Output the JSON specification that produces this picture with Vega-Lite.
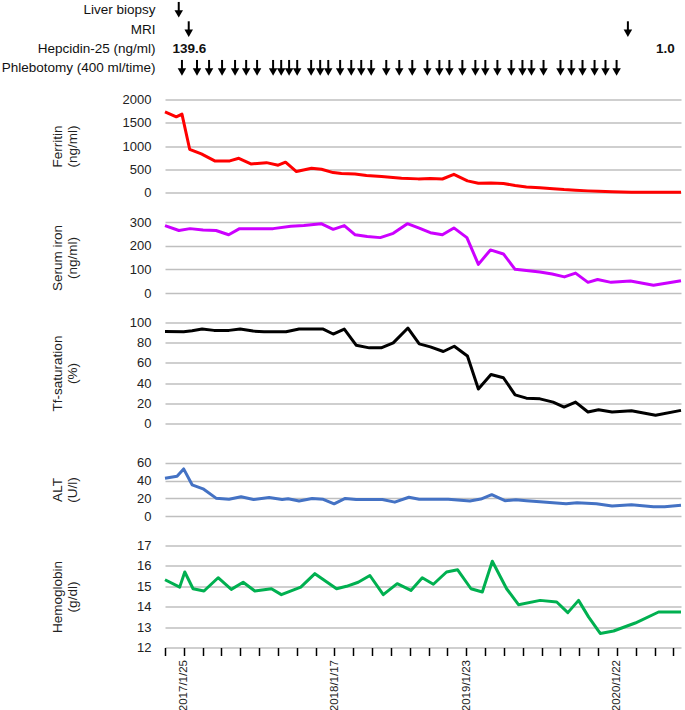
{
  "$schema": "https://vega.github.io/schema/vega-lite/v6.json",
  "padding": {"left": 1, "top": 0, "right": 2, "bottom": 0},
  "spacing": 29.5,
  "bounds": "flush",
  "config": {
    "view": {"stroke": null},
    "font": "Liberation Sans",
    "axis": {"labelFont": "Liberation Sans", "titleFont": "Liberation Sans", "labelColor": "#222", "titleColor": "#222", "titleFontWeight": "normal", "gridColor": "#BFBFBF", "gridWidth": 1.5, "domain": false, "ticks": false, "tickSize": 0, "labelFontSize": 13, "titleFontSize": 13.5}
  },
  "datasets": {
    "events": [
      {"row": "Liver biopsy", "t": 7.3, "kind": "arrow"},
      {"row": "MRI", "t": 12.6, "kind": "arrow"},
      {"row": "MRI", "t": 245.8, "kind": "arrow"},
      {"row": "Hepcidin-25 (ng/ml)", "t": 13.0, "kind": "text", "label": "139.6"},
      {"row": "Hepcidin-25 (ng/ml)", "t": 265.7, "kind": "text", "label": "1.0"},
      {"row": "Phlebotomy (400 ml/time)", "t": 9.0, "kind": "arrow"},
      {"row": "Phlebotomy (400 ml/time)", "t": 17.0, "kind": "arrow"},
      {"row": "Phlebotomy (400 ml/time)", "t": 23.4, "kind": "arrow"},
      {"row": "Phlebotomy (400 ml/time)", "t": 30.3, "kind": "arrow"},
      {"row": "Phlebotomy (400 ml/time)", "t": 37.2, "kind": "arrow"},
      {"row": "Phlebotomy (400 ml/time)", "t": 43.1, "kind": "arrow"},
      {"row": "Phlebotomy (400 ml/time)", "t": 48.9, "kind": "arrow"},
      {"row": "Phlebotomy (400 ml/time)", "t": 57.4, "kind": "arrow"},
      {"row": "Phlebotomy (400 ml/time)", "t": 61.7, "kind": "arrow"},
      {"row": "Phlebotomy (400 ml/time)", "t": 65.9, "kind": "arrow"},
      {"row": "Phlebotomy (400 ml/time)", "t": 70.2, "kind": "arrow"},
      {"row": "Phlebotomy (400 ml/time)", "t": 77.6, "kind": "arrow"},
      {"row": "Phlebotomy (400 ml/time)", "t": 82.4, "kind": "arrow"},
      {"row": "Phlebotomy (400 ml/time)", "t": 86.7, "kind": "arrow"},
      {"row": "Phlebotomy (400 ml/time)", "t": 93.0, "kind": "arrow"},
      {"row": "Phlebotomy (400 ml/time)", "t": 98.9, "kind": "arrow"},
      {"row": "Phlebotomy (400 ml/time)", "t": 104.2, "kind": "arrow"},
      {"row": "Phlebotomy (400 ml/time)", "t": 109.5, "kind": "arrow"},
      {"row": "Phlebotomy (400 ml/time)", "t": 117.5, "kind": "arrow"},
      {"row": "Phlebotomy (400 ml/time)", "t": 124.4, "kind": "arrow"},
      {"row": "Phlebotomy (400 ml/time)", "t": 131.3, "kind": "arrow"},
      {"row": "Phlebotomy (400 ml/time)", "t": 139.3, "kind": "arrow"},
      {"row": "Phlebotomy (400 ml/time)", "t": 145.7, "kind": "arrow"},
      {"row": "Phlebotomy (400 ml/time)", "t": 151.0, "kind": "arrow"},
      {"row": "Phlebotomy (400 ml/time)", "t": 157.9, "kind": "arrow"},
      {"row": "Phlebotomy (400 ml/time)", "t": 164.8, "kind": "arrow"},
      {"row": "Phlebotomy (400 ml/time)", "t": 170.1, "kind": "arrow"},
      {"row": "Phlebotomy (400 ml/time)", "t": 176.5, "kind": "arrow"},
      {"row": "Phlebotomy (400 ml/time)", "t": 183.9, "kind": "arrow"},
      {"row": "Phlebotomy (400 ml/time)", "t": 189.8, "kind": "arrow"},
      {"row": "Phlebotomy (400 ml/time)", "t": 194.6, "kind": "arrow"},
      {"row": "Phlebotomy (400 ml/time)", "t": 201.0, "kind": "arrow"},
      {"row": "Phlebotomy (400 ml/time)", "t": 210.0, "kind": "arrow"},
      {"row": "Phlebotomy (400 ml/time)", "t": 215.8, "kind": "arrow"},
      {"row": "Phlebotomy (400 ml/time)", "t": 221.7, "kind": "arrow"},
      {"row": "Phlebotomy (400 ml/time)", "t": 228.1, "kind": "arrow"},
      {"row": "Phlebotomy (400 ml/time)", "t": 233.9, "kind": "arrow"},
      {"row": "Phlebotomy (400 ml/time)", "t": 239.8, "kind": "arrow"}
    ],
    "labs": [
      {"s": "Ferritin", "t": 0, "v": 1735}, {"s": "Ferritin", "t": 6.0, "v": 1627}, {"s": "Ferritin", "t": 9.0, "v": 1685}, {"s": "Ferritin", "t": 13.1, "v": 929}, {"s": "Ferritin", "t": 19.3, "v": 829}, {"s": "Ferritin", "t": 26.4, "v": 679}, {"s": "Ferritin", "t": 34.4, "v": 679}, {"s": "Ferritin", "t": 39.2, "v": 736}, {"s": "Ferritin", "t": 45.6, "v": 614}, {"s": "Ferritin", "t": 53.9, "v": 642}, {"s": "Ferritin", "t": 60.1, "v": 587}, {"s": "Ferritin", "t": 64.0, "v": 651}, {"s": "Ferritin", "t": 69.8, "v": 450}, {"s": "Ferritin", "t": 77.8, "v": 522}, {"s": "Ferritin", "t": 83.1, "v": 501}, {"s": "Ferritin", "t": 89.3, "v": 428}, {"s": "Ferritin", "t": 93.7, "v": 407}, {"s": "Ferritin", "t": 100.9, "v": 400}, {"s": "Ferritin", "t": 107.0, "v": 364}, {"s": "Ferritin", "t": 115.0, "v": 343}, {"s": "Ferritin", "t": 125.6, "v": 308}, {"s": "Ferritin", "t": 134.5, "v": 293}, {"s": "Ferritin", "t": 140.9, "v": 300}, {"s": "Ferritin", "t": 147.3, "v": 290}, {"s": "Ferritin", "t": 153.4, "v": 390}, {"s": "Ferritin", "t": 160.6, "v": 250}, {"s": "Ferritin", "t": 166.4, "v": 200}, {"s": "Ferritin", "t": 173.1, "v": 205}, {"s": "Ferritin", "t": 179.7, "v": 195}, {"s": "Ferritin", "t": 185.9, "v": 150}, {"s": "Ferritin", "t": 191.9, "v": 120}, {"s": "Ferritin", "t": 199.1, "v": 100}, {"s": "Ferritin", "t": 206.1, "v": 80}, {"s": "Ferritin", "t": 211.9, "v": 62}, {"s": "Ferritin", "t": 218.0, "v": 50}, {"s": "Ferritin", "t": 224.6, "v": 35}, {"s": "Ferritin", "t": 230.2, "v": 25}, {"s": "Ferritin", "t": 237.4, "v": 15}, {"s": "Ferritin", "t": 247.7, "v": 8}, {"s": "Ferritin", "t": 260.5, "v": 5}, {"s": "Ferritin", "t": 274, "v": 5},
      {"s": "Iron", "t": 0, "v": 285}, {"s": "Iron", "t": 7.4, "v": 264}, {"s": "Iron", "t": 13.3, "v": 272}, {"s": "Iron", "t": 20.2, "v": 266}, {"s": "Iron", "t": 27.1, "v": 264}, {"s": "Iron", "t": 33.8, "v": 246}, {"s": "Iron", "t": 39.6, "v": 272}, {"s": "Iron", "t": 57.4, "v": 272}, {"s": "Iron", "t": 66.8, "v": 282}, {"s": "Iron", "t": 73.7, "v": 285}, {"s": "Iron", "t": 82.9, "v": 293}, {"s": "Iron", "t": 89.3, "v": 269}, {"s": "Iron", "t": 95.2, "v": 285}, {"s": "Iron", "t": 101.0, "v": 246}, {"s": "Iron", "t": 107.4, "v": 239}, {"s": "Iron", "t": 114.3, "v": 234}, {"s": "Iron", "t": 121.2, "v": 252}, {"s": "Iron", "t": 128.7, "v": 293}, {"s": "Iron", "t": 135.0, "v": 274}, {"s": "Iron", "t": 140.9, "v": 255}, {"s": "Iron", "t": 147.3, "v": 246}, {"s": "Iron", "t": 153.4, "v": 275}, {"s": "Iron", "t": 160.3, "v": 234}, {"s": "Iron", "t": 166.4, "v": 121}, {"s": "Iron", "t": 172.8, "v": 182}, {"s": "Iron", "t": 179.7, "v": 165}, {"s": "Iron", "t": 185.9, "v": 100}, {"s": "Iron", "t": 191.9, "v": 95}, {"s": "Iron", "t": 199.1, "v": 89}, {"s": "Iron", "t": 205.6, "v": 80}, {"s": "Iron", "t": 212.1, "v": 68}, {"s": "Iron", "t": 218.0, "v": 84}, {"s": "Iron", "t": 224.6, "v": 45}, {"s": "Iron", "t": 229.7, "v": 57}, {"s": "Iron", "t": 236.9, "v": 45}, {"s": "Iron", "t": 247.2, "v": 51}, {"s": "Iron", "t": 259.4, "v": 33}, {"s": "Iron", "t": 274, "v": 52},
      {"s": "Tf", "t": 0, "v": 91.2}, {"s": "Tf", "t": 9.9, "v": 90.9}, {"s": "Tf", "t": 14.4, "v": 91.9}, {"s": "Tf", "t": 19.7, "v": 93.5}, {"s": "Tf", "t": 26.0, "v": 92.2}, {"s": "Tf", "t": 34.0, "v": 92.2}, {"s": "Tf", "t": 39.9, "v": 93.5}, {"s": "Tf", "t": 46.8, "v": 91.5}, {"s": "Tf", "t": 52.6, "v": 90.9}, {"s": "Tf", "t": 64.3, "v": 90.9}, {"s": "Tf", "t": 71.2, "v": 93.5}, {"s": "Tf", "t": 84.0, "v": 93.5}, {"s": "Tf", "t": 89.3, "v": 88.6}, {"s": "Tf", "t": 95.2, "v": 93.5}, {"s": "Tf", "t": 101.5, "v": 77.5}, {"s": "Tf", "t": 108.5, "v": 74.9}, {"s": "Tf", "t": 114.8, "v": 74.9}, {"s": "Tf", "t": 121.2, "v": 79.8}, {"s": "Tf", "t": 129.0, "v": 94.5}, {"s": "Tf", "t": 135.0, "v": 78.8}, {"s": "Tf", "t": 140.9, "v": 75.9}, {"s": "Tf", "t": 147.8, "v": 71.3}, {"s": "Tf", "t": 153.6, "v": 76.5}, {"s": "Tf", "t": 160.6, "v": 66.8}, {"s": "Tf", "t": 166.4, "v": 34.2}, {"s": "Tf", "t": 173.1, "v": 48.5}, {"s": "Tf", "t": 179.7, "v": 45.3}, {"s": "Tf", "t": 185.9, "v": 28.3}, {"s": "Tf", "t": 191.9, "v": 25.1}, {"s": "Tf", "t": 199.1, "v": 24.4}, {"s": "Tf", "t": 206.1, "v": 21.2}, {"s": "Tf", "t": 211.9, "v": 16.3}, {"s": "Tf", "t": 218.0, "v": 21.2}, {"s": "Tf", "t": 224.6, "v": 11.4}, {"s": "Tf", "t": 230.2, "v": 13.7}, {"s": "Tf", "t": 237.4, "v": 11.4}, {"s": "Tf", "t": 247.7, "v": 12.7}, {"s": "Tf", "t": 260.5, "v": 8.1}, {"s": "Tf", "t": 274, "v": 13},
      {"s": "ALT", "t": 0, "v": 42.7}, {"s": "ALT", "t": 6.4, "v": 44.9}, {"s": "ALT", "t": 9.9, "v": 53.3}, {"s": "ALT", "t": 14.4, "v": 35.3}, {"s": "ALT", "t": 20.2, "v": 30.8}, {"s": "ALT", "t": 27.1, "v": 20.2}, {"s": "ALT", "t": 34.0, "v": 18.9}, {"s": "ALT", "t": 40.4, "v": 21.8}, {"s": "ALT", "t": 47.0, "v": 18.6}, {"s": "ALT", "t": 55.3, "v": 20.9}, {"s": "ALT", "t": 62.2, "v": 18.6}, {"s": "ALT", "t": 65.4, "v": 19.6}, {"s": "ALT", "t": 71.2, "v": 17.0}, {"s": "ALT", "t": 78.1, "v": 19.9}, {"s": "ALT", "t": 84.0, "v": 18.9}, {"s": "ALT", "t": 89.8, "v": 13.8}, {"s": "ALT", "t": 95.7, "v": 19.9}, {"s": "ALT", "t": 101.5, "v": 18.6}, {"s": "ALT", "t": 115.4, "v": 18.6}, {"s": "ALT", "t": 122.0, "v": 15.7}, {"s": "ALT", "t": 129.5, "v": 21.2}, {"s": "ALT", "t": 135.0, "v": 18.9}, {"s": "ALT", "t": 150.4, "v": 18.9}, {"s": "ALT", "t": 161.9, "v": 17.0}, {"s": "ALT", "t": 167.7, "v": 19.2}, {"s": "ALT", "t": 173.5, "v": 24.1}, {"s": "ALT", "t": 180.5, "v": 17.3}, {"s": "ALT", "t": 186.3, "v": 18.3}, {"s": "ALT", "t": 191.9, "v": 17.3}, {"s": "ALT", "t": 199.1, "v": 16.0}, {"s": "ALT", "t": 213.0, "v": 13.8}, {"s": "ALT", "t": 218.8, "v": 15.1}, {"s": "ALT", "t": 229.1, "v": 13.8}, {"s": "ALT", "t": 237.4, "v": 11.2}, {"s": "ALT", "t": 247.7, "v": 12.8}, {"s": "ALT", "t": 259.4, "v": 10.6}, {"s": "ALT", "t": 265.3, "v": 10.6}, {"s": "ALT", "t": 274, "v": 12.2},
      {"s": "Hb", "t": 0, "v": 15.32}, {"s": "Hb", "t": 7.8, "v": 14.96}, {"s": "Hb", "t": 10.5, "v": 15.7}, {"s": "Hb", "t": 14.9, "v": 14.88}, {"s": "Hb", "t": 20.7, "v": 14.77}, {"s": "Hb", "t": 28.2, "v": 15.42}, {"s": "Hb", "t": 35.2, "v": 14.85}, {"s": "Hb", "t": 41.5, "v": 15.2}, {"s": "Hb", "t": 47.7, "v": 14.77}, {"s": "Hb", "t": 56.5, "v": 14.88}, {"s": "Hb", "t": 61.8, "v": 14.59}, {"s": "Hb", "t": 72.1, "v": 14.96}, {"s": "Hb", "t": 79.6, "v": 15.62}, {"s": "Hb", "t": 91.1, "v": 14.88}, {"s": "Hb", "t": 96.4, "v": 15.0}, {"s": "Hb", "t": 102.6, "v": 15.2}, {"s": "Hb", "t": 108.8, "v": 15.53}, {"s": "Hb", "t": 115.9, "v": 14.59}, {"s": "Hb", "t": 123.3, "v": 15.13}, {"s": "Hb", "t": 130.6, "v": 14.8}, {"s": "Hb", "t": 136.6, "v": 15.42}, {"s": "Hb", "t": 142.5, "v": 15.1}, {"s": "Hb", "t": 149.5, "v": 15.7}, {"s": "Hb", "t": 155.4, "v": 15.81}, {"s": "Hb", "t": 162.5, "v": 14.88}, {"s": "Hb", "t": 168.5, "v": 14.72}, {"s": "Hb", "t": 173.8, "v": 16.23}, {"s": "Hb", "t": 181.4, "v": 14.88}, {"s": "Hb", "t": 187.7, "v": 14.1}, {"s": "Hb", "t": 199.2, "v": 14.31}, {"s": "Hb", "t": 208.0, "v": 14.23}, {"s": "Hb", "t": 213.9, "v": 13.71}, {"s": "Hb", "t": 219.6, "v": 14.31}, {"s": "Hb", "t": 224.9, "v": 13.5}, {"s": "Hb", "t": 231.1, "v": 12.69}, {"s": "Hb", "t": 238.2, "v": 12.81}, {"s": "Hb", "t": 249.7, "v": 13.2}, {"s": "Hb", "t": 262.1, "v": 13.74}, {"s": "Hb", "t": 274, "v": 13.74}
    ]
  },
  "vconcat": [
    {
      "width": 516, "height": 70,
      "data": {"name": "events"},
      "encoding": {
        "x": {"field": "t", "type": "quantitative", "scale": {"domain": [0, 274], "nice": false, "zero": false}, "axis": null},
        "y": {"field": "row", "type": "ordinal", "sort": ["Liver biopsy", "MRI", "Hepcidin-25 (ng/ml)", "Phlebotomy (400 ml/time)"], "scale": {"type": "point", "padding": 0.31, "align": 0.83}, "axis": {"title": null, "grid": false, "labelFontSize": 13.5, "labelPadding": 10, "labelColor": "#111"}}
      },
      "layer": [
        {"transform": [{"filter": "datum.kind == 'arrow'"}], "mark": {"type": "rule", "color": "#000", "strokeWidth": 2, "yOffset": -8, "y2Offset": 3}, "encoding": {"y2": {"field": "row"}}},
        {"transform": [{"filter": "datum.kind == 'arrow'"}], "mark": {"type": "point", "shape": "triangle-down", "filled": true, "color": "#000", "opacity": 1, "size": 72, "yOffset": 4}},
        {"transform": [{"filter": "datum.kind == 'text'"}], "mark": {"type": "text", "fontWeight": "bold", "fontSize": 13.5, "color": "#111"}, "encoding": {"text": {"field": "label"}}}
      ]
    },
    {
      "width": 516, "height": 93,
      "data": {"name": "labs"},
      "transform": [{"filter": "datum.s == 'Ferritin'"}],
      "mark": {"type": "line", "color": "#FF0000", "strokeWidth": 3, "strokeJoin": "round"},
      "encoding": {
        "x": {"field": "t", "type": "quantitative", "scale": {"domain": [0, 274], "nice": false, "zero": false}, "axis": null},
        "y": {"field": "v", "type": "quantitative", "scale": {"domain": [0, 2000], "nice": false}, "axis": {"values": [0, 500, 1000, 1500, 2000], "format": "d", "title": ["Ferritin", "(ng/ml)"], "labelPadding": 14, "titleX": -108, "titleY": 46.5, "titleAngle": -90, "titleAlign": "center", "titleBaseline": "middle"}}
      }
    },
    {
      "width": 516, "height": 71,
      "data": {"name": "labs"},
      "transform": [{"filter": "datum.s == 'Iron'"}],
      "mark": {"type": "line", "color": "#CC00FF", "strokeWidth": 3, "strokeJoin": "round"},
      "encoding": {
        "x": {"field": "t", "type": "quantitative", "scale": {"domain": [0, 274], "nice": false, "zero": false}, "axis": null},
        "y": {"field": "v", "type": "quantitative", "scale": {"domain": [0, 300], "nice": false}, "axis": {"values": [0, 100, 200, 300], "title": ["Serum iron", "(ng/ml)"], "labelPadding": 14, "titleX": -108, "titleY": 35.5, "titleAngle": -90, "titleAlign": "center", "titleBaseline": "middle"}}
      }
    },
    {
      "width": 516, "height": 101,
      "data": {"name": "labs"},
      "transform": [{"filter": "datum.s == 'Tf'"}],
      "mark": {"type": "line", "color": "#000000", "strokeWidth": 3, "strokeJoin": "round"},
      "encoding": {
        "x": {"field": "t", "type": "quantitative", "scale": {"domain": [0, 274], "nice": false, "zero": false}, "axis": null},
        "y": {"field": "v", "type": "quantitative", "scale": {"domain": [0, 100], "nice": false}, "axis": {"values": [0, 20, 40, 60, 80, 100], "title": ["Tf-saturation", "(%)"], "labelPadding": 14, "titleX": -108, "titleY": 50.5, "titleAngle": -90, "titleAlign": "center", "titleBaseline": "middle"}}
      }
    },
    {
      "width": 516, "height": 63,
      "data": {"name": "labs"},
      "transform": [{"filter": "datum.s == 'ALT'"}],
      "mark": {"type": "line", "color": "#4472C4", "strokeWidth": 3, "strokeJoin": "round"},
      "encoding": {
        "x": {"field": "t", "type": "quantitative", "scale": {"domain": [0, 274], "nice": false, "zero": false}, "axis": null},
        "y": {"field": "v", "type": "quantitative", "scale": {"domain": [0, 71.3], "nice": false}, "axis": {"values": [0, 20, 40, 60], "title": ["ALT", "(U/l)"], "labelPadding": 14, "titleX": -108, "titleY": 36.5, "titleAngle": -90, "titleAlign": "center", "titleBaseline": "middle"}}
      }
    },
    {
      "width": 516, "height": 102,
      "data": {"name": "labs"},
      "transform": [{"filter": "datum.s == 'Hb'"}],
      "mark": {"type": "line", "color": "#00B050", "strokeWidth": 3, "strokeJoin": "round"},
      "encoding": {
        "x": {"field": "t", "type": "quantitative", "scale": {"domain": [0, 274], "nice": false, "zero": false}, "axis": {"values": [0, 10, 20, 30, 40, 50, 60, 70, 80, 90, 100, 110, 120, 130, 140, 150, 160, 170, 180, 190, 200, 210, 220, 230, 240, 250, 260, 270], "title": null, "grid": false, "ticks": true, "tickSize": 8, "tickColor": "#000", "tickWidth": 1.5, "labelAngle": -90, "labelAlign": "right", "labelBaseline": "middle", "labelPadding": 4, "labelFontSize": 11.5, "labelOverlap": false, "labelFlush": false, "labelExpr": "datum.value == 10 ? '2017/1/25' : datum.value == 90 ? '2018/1/17' : datum.value == 160 ? '2019/1/23' : datum.value == 240 ? '2020/1/22' : ''"}},
        "y": {"field": "v", "type": "quantitative", "scale": {"domain": [12, 17], "nice": false, "zero": false}, "axis": {"values": [12, 13, 14, 15, 16, 17], "title": ["Hemoglobin", "(g/dl)"], "labelPadding": 14, "titleX": -108, "titleY": 51, "titleAngle": -90, "titleAlign": "center", "titleBaseline": "middle"}}
      }
    }
  ]
}
